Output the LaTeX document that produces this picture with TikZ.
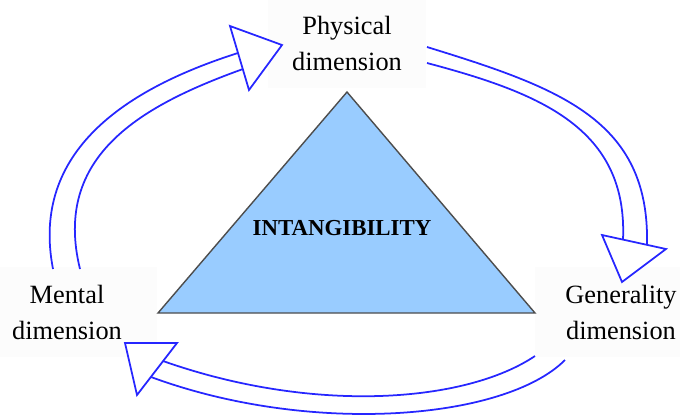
\documentclass[tikz,border=0pt]{standalone}
\usepackage{fontspec}
\setmainfont{Liberation Serif}
\usepackage{xcolor}
\definecolor{arrowblue}{HTML}{2626FF}
\definecolor{pyramid}{HTML}{99CCFF}
\definecolor{pyramidedge}{HTML}{4D4D4D}
\definecolor{labelbg}{HTML}{FCFCFC}

\begin{document}
\begin{tikzpicture}[
  x=0.02cm, y=-0.02cm,
  dimlabel/.style={
    rectangle, fill=labelbg, draw=none,
    minimum height=1.8cm, align=center, inner sep=0pt,
    font=\fontsize{15}{20.5}\selectfont
  },
  shaft/.style={draw=arrowblue, line width=1pt},
  arrowhead/.style={draw=arrowblue, line width=1pt, fill=white, line join=miter}
]
\useasboundingbox (0,0) rectangle (680,414);

% --- DIMENSION LABELS ---
\node[dimlabel, minimum width=3.16cm] (physical) at (347,43) {Physical\\dimension};
\node[dimlabel, minimum width=3.6cm] (mental) at (67,312) {Mental\\dimension};
\node[dimlabel, minimum width=3.44cm] (generality) at (621,312) {Generality\\dimension};

% --- PYRAMID ---
\coordinate (apex) at (347,92);
\coordinate (baseL) at (158,313);
\coordinate (baseR) at (535,313);
\draw[fill=pyramid, draw=pyramidedge, line width=0.8pt, line join=miter] (apex) -- (baseR) -- (baseL) -- cycle;
\node[font=\fontsize{13}{15}\selectfont\bfseries] (core) at (342,228) {INTANGIBILITY};

% --- Mental -> Physical ---
\coordinate (mp-out0) at (53,269);
\coordinate (mp-in0) at (80,269);
\coordinate (mp-out1) at (238,53);
\coordinate (mp-in1) at (243,69);
\draw[shaft] (mp-out0) .. controls (30,150) and (128,88) .. (mp-out1);
\draw[shaft] (mp-in0) .. controls (52,155) and (143,105) .. (mp-in1);
\draw[arrowhead] (230,26) -- (282,45) -- (249,90) -- cycle;

% --- Physical -> Generality ---
\coordinate (pg-out0) at (427,47);
\coordinate (pg-in0) at (427,63);
\coordinate (pg-out1) at (647,245);
\coordinate (pg-in1) at (623,240);
\draw[shaft] (pg-out0) .. controls (560,88) and (650,120) .. (pg-out1);
\draw[shaft] (pg-in0) .. controls (540,93) and (628,128) .. (pg-in1);
\draw[arrowhead] (602,235) -- (666,249) -- (622,282) -- cycle;

% --- Generality -> Mental ---
\coordinate (gm-in0) at (535,356);
\coordinate (gm-out0) at (565,360);
\coordinate (gm-in1) at (163,361);
\coordinate (gm-out1) at (151,377);
\draw[shaft] (gm-in0) .. controls (465,403) and (313,414) .. (gm-in1);
\draw[shaft] (gm-out0) .. controls (505,420) and (311,436) .. (gm-out1);
\draw[arrowhead] (125,343) -- (177,343) -- (137,395) -- cycle;

\end{tikzpicture}
\end{document}
